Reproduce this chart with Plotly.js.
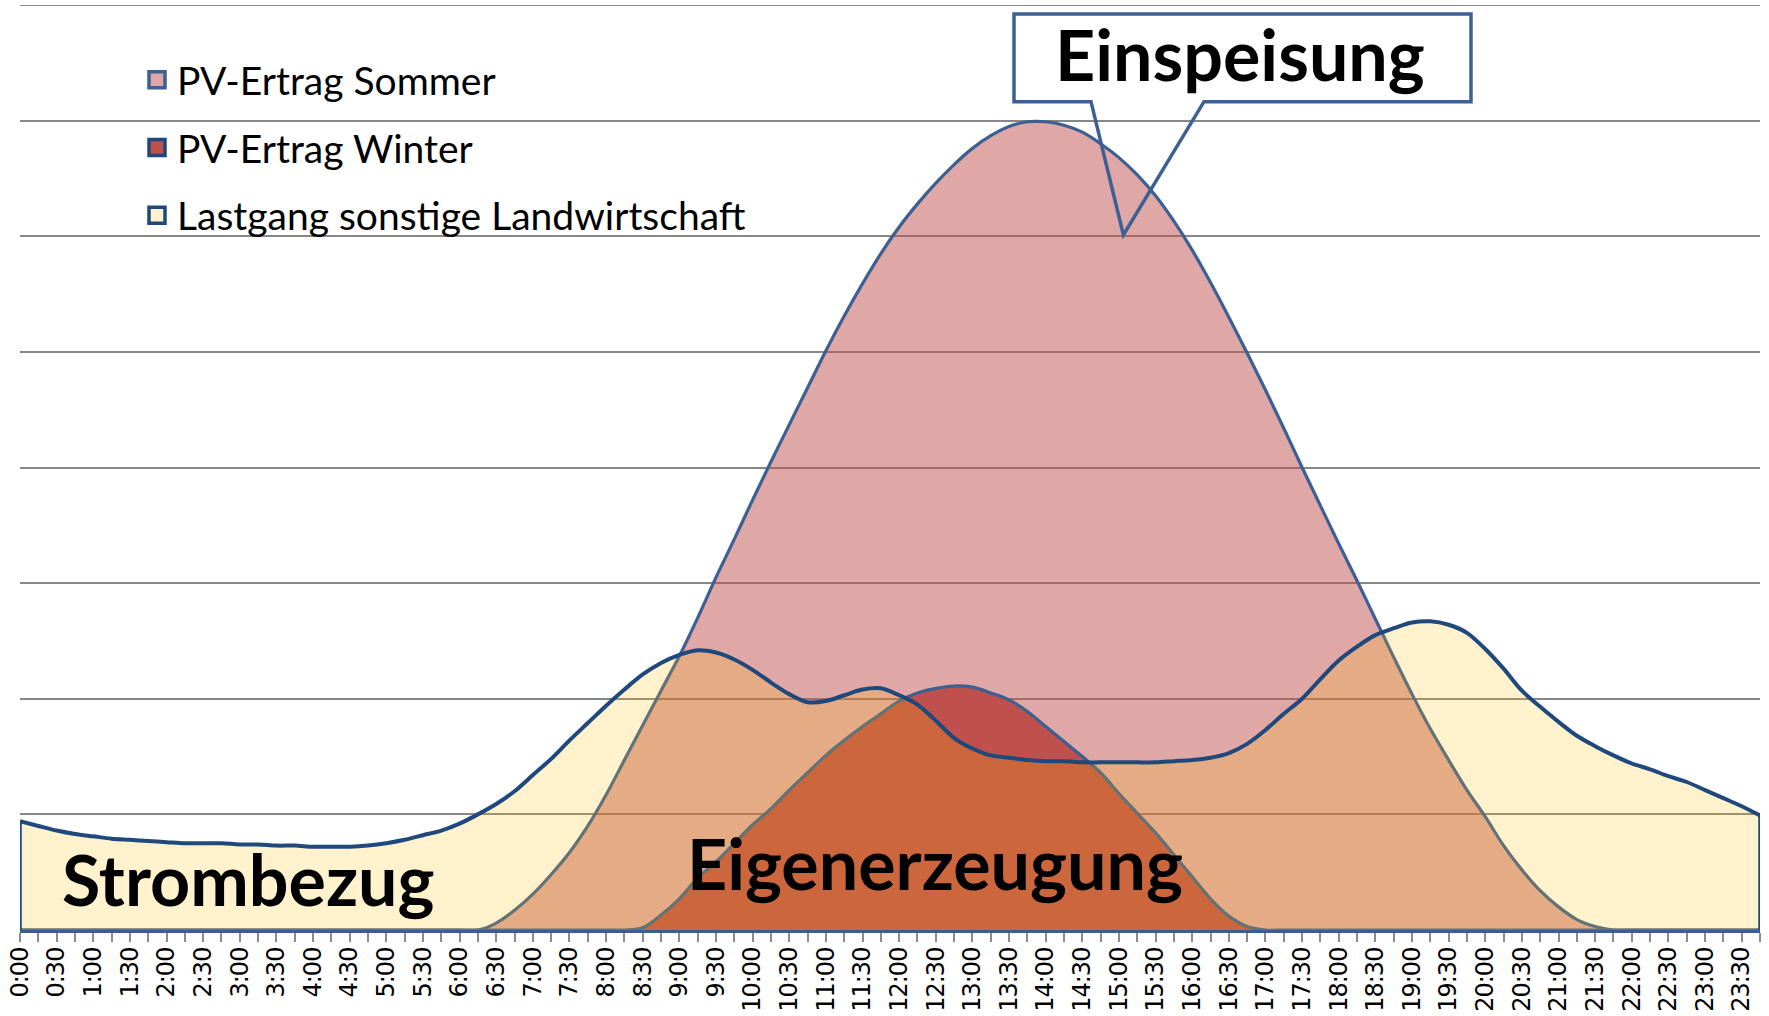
<!DOCTYPE html>
<html>
<head>
<meta charset="utf-8">
<script src="https://cdn.plot.ly/plotly-3.0.1.min.js"></script>
<style>
html,body{margin:0;padding:0;background:#ffffff;}
#chart{width:1769px;height:1016px;}
#chart .xtick text{letter-spacing:-1px;}
</style>
</head>
<body>
<div id="chart"></div>
<script>
// 15-minute time slots
const categories = [
"0:00","0:15","0:30","0:45","1:00","1:15","1:30","1:45","2:00","2:15","2:30","2:45",
"3:00","3:15","3:30","3:45","4:00","4:15","4:30","4:45","5:00","5:15","5:30","5:45",
"6:00","6:15","6:30","6:45","7:00","7:15","7:30","7:45","8:00","8:15","8:30","8:45",
"9:00","9:15","9:30","9:45","10:00","10:15","10:30","10:45","11:00","11:15","11:30","11:45",
"12:00","12:15","12:30","12:45","13:00","13:15","13:30","13:45","14:00","14:15","14:30","14:45",
"15:00","15:15","15:30","15:45","16:00","16:15","16:30","16:45","17:00","17:15","17:30","17:45",
"18:00","18:15","18:30","18:45","19:00","19:15","19:30","19:45","20:00","20:15","20:30","20:45",
"21:00","21:15","21:30","21:45","22:00","22:15","22:30","22:45","23:00","23:15","23:30","23:45"
];

// labels shown on the axis (every 30 minutes)
const tickLabels = [
"0:00","0:30","1:00","1:30","2:00","2:30","3:00","3:30","4:00","4:30","5:00","5:30",
"6:00","6:30","7:00","7:30","8:00","8:30","9:00","9:30","10:00","10:30","11:00","11:30",
"12:00","12:30","13:00","13:30","14:00","14:30","15:00","15:30","16:00","16:30","17:00","17:30",
"18:00","18:30","19:00","19:30","20:00","20:30","21:00","21:30","22:00","22:30","23:00","23:30"
];

const pvSommer = [
0,0,0,0,0,0,0,0,0,0,0,0,
0,0,0,0,0,0,0,0,0,0,0,0,
0,0,0.06,0.17,0.31,0.48,0.67,0.90,1.17,1.47,1.77,2.07,
2.37,2.70,3.05,3.38,3.72,4.05,4.37,4.69,5.01,5.31,5.59,5.85,
6.08,6.28,6.46,6.62,6.76,6.87,6.95,6.99,6.99,6.96,6.90,6.80,
6.68,6.53,6.35,6.13,5.88,5.60,5.30,4.99,4.67,4.34,4.00,3.67,
3.34,3.02,2.69,2.36,2.04,1.74,1.47,1.21,0.98,0.73,0.52,0.34,
0.20,0.09,0.03,0,0,0,0,0,0,0,0,0
];

const pvWinter = [
0,0,0,0,0,0,0,0,0,0,0,0,
0,0,0,0,0,0,0,0,0,0,0,0,
0,0,0,0,0,0,0,0,0,0,0.02,0.13,
0.27,0.45,0.59,0.75,0.91,1.05,1.21,1.36,1.51,1.64,1.76,1.87,
1.98,2.05,2.09,2.11,2.10,2.05,1.99,1.89,1.76,1.63,1.50,1.36,
1.18,1.01,0.84,0.65,0.46,0.27,0.12,0.03,0,0,0,0,
0,0,0,0,0,0,0,0,0,0,0,0,
0,0,0,0,0,0,0,0,0,0,0,0
];

const lastgang = [
0.94,0.90,0.86,0.83,0.81,0.79,0.78,0.77,0.76,0.75,0.75,0.75,
0.74,0.74,0.73,0.73,0.72,0.72,0.72,0.73,0.75,0.78,0.82,0.86,
0.92,1.00,1.09,1.20,1.34,1.48,1.64,1.79,1.94,2.08,2.21,2.31,
2.38,2.42,2.40,2.34,2.25,2.14,2.04,1.97,1.98,2.03,2.08,2.09,
2.03,1.95,1.81,1.66,1.57,1.51,1.49,1.47,1.46,1.46,1.45,1.45,
1.45,1.45,1.45,1.46,1.47,1.49,1.53,1.61,1.73,1.87,2.00,2.17,
2.33,2.45,2.55,2.61,2.66,2.67,2.64,2.57,2.43,2.26,2.07,1.93,
1.80,1.68,1.59,1.51,1.44,1.39,1.33,1.28,1.21,1.14,1.07,0.99
];

const seriesNames = ["PV-Ertrag Sommer", "PV-Ertrag Winter", "Lastgang sonstige Landwirtschaft"];
const regionLabels = ["Strombezug", "Eigenerzeugung", "Einspeisung"];

const tickText = categories.map(function (c, i) { return i % 2 === 0 ? tickLabels[i / 2] : ""; });

const pvLine = "#3C6093";
const loadLine = "#1F497D";

const areaBase = {
  x: categories, type: "scatter", mode: "lines", fill: "tozeroy",
  hoverinfo: "skip", showlegend: false
};

const traces = [
  Object.assign({}, areaBase, {
    y: pvSommer, name: seriesNames[0],
    fillcolor: "rgba(192,80,77,0.5)",
    line: {color: pvLine, width: 3.2, shape: "spline", smoothing: 1}
  }),
  Object.assign({}, areaBase, {
    y: pvWinter, name: seriesNames[1],
    fillcolor: "rgb(192,80,77)",
    line: {color: pvLine, width: 3.2, shape: "spline", smoothing: 1}
  }),
  Object.assign({}, areaBase, {
    y: lastgang, name: seriesNames[2],
    fillcolor: "rgba(255,192,0,0.2)",
    line: {color: loadLine, width: 4, shape: "spline", smoothing: 0.9}
  })
];

// legend entries (square swatches)
const swatchColors = ["#DFA7A7", "#C0504D", "#FFF2CC"];
const swatchLines = ["#3C6093", "#1F497D", "#1F497D"];
seriesNames.forEach(function (n, k) {
  traces.push({
    x: [null], y: [null], type: "scatter", mode: "markers", name: n,
    legendgroup: "g" + k, showlegend: true, hoverinfo: "skip",
    marker: {symbol: "square", size: 16, color: swatchColors[k], line: {color: swatchLines[k], width: 3.5}}
  });
});

// helpers for paper coordinates of the plot box (l=20, plot width 1740, t=5, plot height 925)
function px(x) { return (x - 20) / 1740; }
function py(y) { return (930 - y) / 925; }

const calloutPath =
  "M " + px(1091) + " " + py(101.7) +
  " L " + px(1014) + " " + py(101.7) +
  " L " + px(1014) + " " + py(14) +
  " L " + px(1471) + " " + py(14) +
  " L " + px(1471) + " " + py(101.7) +
  " L " + px(1204) + " " + py(101.7) +
  " L " + px(1123.4) + " " + py(235) + " Z";

const bigFont = {family: "Lato, 'Open Sans', sans-serif", size: 70, color: "#000000", weight: "bold"};

const layout = {
  width: 1769, height: 1016,
  margin: {l: 20, r: 9, t: 5, b: 86},
  paper_bgcolor: "#ffffff", plot_bgcolor: "#ffffff",
  showlegend: true,
  legend: {
    x: px(137), y: py(48), xanchor: "left", yanchor: "top",
    bgcolor: "rgba(0,0,0,0)", borderwidth: 0,
    traceorder: "grouped", tracegroupgap: 14,
    font: {family: "Lato, 'Open Sans', sans-serif", size: 39, color: "#000000"},
    itemsizing: "trace"
  },
  xaxis: {
    type: "category", range: [0, categories.length - 1],
    tickmode: "array", tickvals: categories, ticktext: tickText,
    tickangle: -90, ticks: "outside", ticklen: 9, tickwidth: 2, tickcolor: "#8C8C8C",
    ticklabelstandoff: -4,
    showline: true, linecolor: "#3B5E8C", linewidth: 3,
    showgrid: false, zeroline: false, fixedrange: true,
    tickfont: {family: "'DejaVu Sans', sans-serif", size: 24, color: "#000000"}
  },
  yaxis: {
    range: [0, 8], dtick: 1, tick0: 0,
    showticklabels: false, ticks: "",
    showgrid: true, gridcolor: "#878787", gridwidth: 2,
    zeroline: false, showline: false, fixedrange: true
  },
  shapes: [
    {type: "line", xref: "paper", yref: "y", x0: 0, x1: 1, y0: 8, y1: 8,
     line: {color: "#878787", width: 2}, layer: "below"},
    {type: "line", xref: "x", yref: "y", x0: 0, x1: 0, y0: 0, y1: lastgang[0],
     line: {color: loadLine, width: 3.5}, layer: "above"},
    {type: "line", xref: "x", yref: "y", x0: categories.length - 1, x1: categories.length - 1,
     y0: 0, y1: lastgang[lastgang.length - 1], line: {color: loadLine, width: 3.5}, layer: "above"},
    {type: "path", xref: "paper", yref: "paper", path: calloutPath,
     fillcolor: "rgba(0,0,0,0)", line: {color: "#3C6093", width: 3.5}, layer: "above"}
  ],
  annotations: [
    {text: regionLabels[0], xref: "paper", yref: "paper", x: px(248), y: py(879),
     xanchor: "center", yanchor: "middle", showarrow: false, font: bigFont},
    {text: regionLabels[1], xref: "paper", yref: "paper", x: px(935), y: py(862.5),
     xanchor: "center", yanchor: "middle", showarrow: false, font: bigFont},
    {text: regionLabels[2], xref: "paper", yref: "paper", x: px(1240), y: py(54),
     xanchor: "center", yanchor: "middle", showarrow: false, font: bigFont}
  ]
};

Plotly.newPlot("chart", traces, layout, {displayModeBar: false, staticPlot: true});
</script>
</body>
</html>
